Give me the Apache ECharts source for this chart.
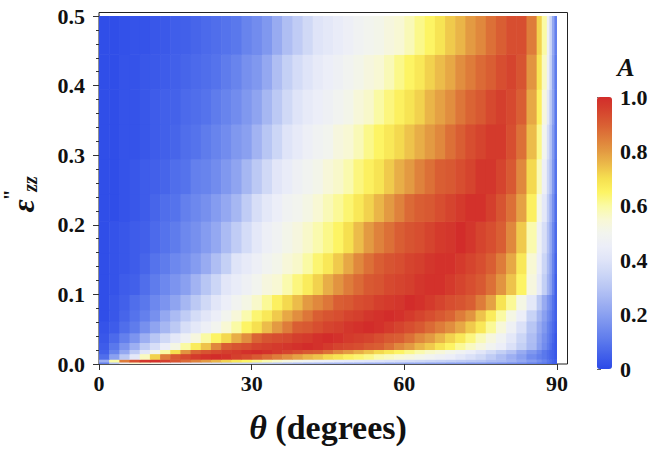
<!DOCTYPE html>
<html><head><meta charset="utf-8">
<script src="https://cdn.jsdelivr.net/npm/echarts@6/dist/echarts.min.js"></script>
<style>html,body{margin:0;padding:0;background:#fff}#c{width:657px;height:449px}</style>
</head><body><div id="c"></div>
<script>
// theta cell edges (degrees)
const thetaEdges = [0,2,4,6,8,10,12,14,16,18,20,22,24,26,28,30,32,34,36,38,40,42,44,46,48,50,52,54,56,58,60,62,64,66,68,70,72,74,76,78,80,82,84,86,87,88,88.5,89,89.5,90];
// eps''_zz cell edges
const epsEdges = [0,0.003,0.007,0.015,0.021,0.031,0.045,0.062,0.078,0.1,0.13,0.16,0.205,0.245,0.295,0.345,0.395,0.445,0.5];
// absorption A, one row per eps band (bottom to top)
const r01 = [0.12,0.30,0.45,0.55,0.55,0.52,0.49,0.46,0.43,0.41,0.39,0.37,0.35,0.34,0.33,0.32,0.31,0.30,0.29,0.28,0.27,0.27,0.26,0.26,0.25,0.25,0.24,0.24,0.23,0.23,0.22,0.22,0.21,0.21,0.20,0.20,0.19,0.19,0.18,0.17,0.16,0.15,0.13,0.11,0.10,0.08,0.07,0.05,0.04];
const r02 = [0.24,0.60,0.85,0.93,0.98,0.99,0.96,0.92,0.88,0.84,0.80,0.76,0.72,0.68,0.65,0.62,0.59,0.56,0.53,0.51,0.49,0.47,0.46,0.44,0.43,0.42,0.41,0.40,0.39,0.38,0.37,0.36,0.35,0.34,0.33,0.32,0.31,0.30,0.28,0.27,0.25,0.22,0.19,0.16,0.13,0.10,0.08,0.06,0.04];
const r03 = [0.08,0.20,0.31,0.42,0.57,0.72,0.85,0.91,0.94,0.97,0.99,1.00,0.99,0.96,0.94,0.91,0.88,0.85,0.82,0.79,0.76,0.74,0.71,0.69,0.66,0.64,0.62,0.59,0.57,0.55,0.53,0.51,0.49,0.47,0.45,0.42,0.39,0.36,0.32,0.28,0.24,0.20,0.15,0.12,0.10,0.08,0.06,0.05,0.03];
const r04 = [0.05,0.13,0.22,0.32,0.41,0.50,0.60,0.70,0.81,0.89,0.92,0.94,0.96,0.97,0.99,1.00,0.99,0.97,0.95,0.93,0.91,0.90,0.87,0.83,0.80,0.77,0.74,0.71,0.68,0.65,0.62,0.59,0.56,0.54,0.51,0.48,0.45,0.41,0.37,0.33,0.29,0.23,0.18,0.14,0.10,0.08,0.06,0.05,0.03];
const r05 = [0.04,0.10,0.17,0.24,0.32,0.38,0.45,0.52,0.60,0.67,0.74,0.83,0.90,0.92,0.93,0.95,0.96,0.97,0.98,0.99,1.00,0.99,0.97,0.95,0.94,0.93,0.91,0.90,0.87,0.83,0.80,0.76,0.73,0.69,0.65,0.61,0.57,0.53,0.49,0.45,0.39,0.33,0.27,0.20,0.15,0.11,0.08,0.05,0.03];
const r06 = [0.03,0.07,0.12,0.17,0.24,0.30,0.36,0.42,0.47,0.53,0.60,0.65,0.71,0.77,0.82,0.89,0.92,0.93,0.94,0.96,0.97,0.99,1.00,0.99,0.97,0.96,0.95,0.93,0.91,0.90,0.87,0.83,0.80,0.76,0.72,0.68,0.63,0.58,0.53,0.48,0.42,0.35,0.28,0.21,0.16,0.12,0.09,0.06,0.03];
const r07 = [0.02,0.04,0.08,0.11,0.16,0.21,0.26,0.31,0.38,0.42,0.46,0.50,0.55,0.60,0.65,0.70,0.75,0.80,0.85,0.90,0.91,0.93,0.95,0.96,0.98,0.99,1.00,0.99,0.97,0.95,0.93,0.91,0.88,0.85,0.82,0.78,0.73,0.68,0.61,0.54,0.47,0.39,0.30,0.23,0.18,0.13,0.10,0.07,0.04];
const r08 = [0.01,0.03,0.06,0.09,0.12,0.16,0.22,0.27,0.32,0.37,0.41,0.45,0.50,0.54,0.59,0.64,0.68,0.73,0.78,0.82,0.86,0.90,0.92,0.93,0.95,0.96,0.98,0.99,1.00,0.99,0.97,0.95,0.93,0.91,0.89,0.85,0.81,0.74,0.67,0.60,0.52,0.45,0.34,0.26,0.20,0.15,0.12,0.08,0.05];
const r09 = [0.01,0.03,0.05,0.08,0.10,0.14,0.17,0.21,0.26,0.31,0.36,0.41,0.45,0.49,0.52,0.56,0.61,0.66,0.71,0.75,0.80,0.83,0.86,0.90,0.91,0.93,0.94,0.96,0.97,0.98,1.00,0.99,0.97,0.95,0.93,0.92,0.90,0.85,0.79,0.69,0.61,0.52,0.42,0.31,0.23,0.17,0.14,0.09,0.05];
const r10 = [0.01,0.02,0.04,0.05,0.08,0.11,0.14,0.17,0.20,0.25,0.30,0.35,0.41,0.44,0.47,0.50,0.53,0.55,0.59,0.63,0.67,0.72,0.77,0.81,0.85,0.88,0.91,0.92,0.94,0.95,0.96,0.98,0.99,0.99,0.97,0.95,0.93,0.91,0.87,0.81,0.74,0.65,0.53,0.43,0.33,0.25,0.20,0.12,0.05];
const r11 = [0.01,0.02,0.03,0.04,0.06,0.09,0.11,0.14,0.16,0.19,0.23,0.28,0.33,0.40,0.43,0.46,0.49,0.51,0.54,0.56,0.60,0.64,0.68,0.73,0.78,0.83,0.87,0.90,0.92,0.93,0.95,0.96,0.98,0.99,0.99,0.97,0.95,0.93,0.90,0.85,0.78,0.68,0.55,0.45,0.35,0.27,0.21,0.13,0.06];
const r12 = [0.01,0.02,0.03,0.04,0.05,0.07,0.09,0.11,0.14,0.16,0.19,0.22,0.27,0.32,0.37,0.42,0.46,0.48,0.51,0.53,0.56,0.59,0.62,0.65,0.70,0.75,0.80,0.84,0.87,0.90,0.92,0.93,0.95,0.97,0.98,1.00,0.98,0.95,0.93,0.90,0.83,0.73,0.59,0.47,0.38,0.29,0.22,0.14,0.07];
const r13 = [0.01,0.01,0.02,0.03,0.04,0.06,0.08,0.09,0.12,0.14,0.16,0.19,0.22,0.26,0.32,0.38,0.42,0.45,0.48,0.50,0.52,0.55,0.58,0.61,0.64,0.68,0.72,0.76,0.80,0.84,0.88,0.90,0.91,0.93,0.95,0.97,0.99,0.99,0.96,0.92,0.87,0.79,0.66,0.52,0.42,0.32,0.24,0.16,0.08];
const r14 = [0.01,0.01,0.02,0.03,0.04,0.05,0.06,0.08,0.09,0.12,0.13,0.15,0.18,0.21,0.26,0.31,0.36,0.41,0.44,0.47,0.49,0.51,0.54,0.56,0.59,0.63,0.66,0.69,0.73,0.77,0.80,0.84,0.87,0.90,0.91,0.93,0.95,0.98,0.98,0.95,0.91,0.83,0.71,0.58,0.46,0.35,0.28,0.18,0.09];
const r15 = [0.01,0.01,0.02,0.02,0.03,0.04,0.05,0.06,0.08,0.09,0.11,0.13,0.15,0.18,0.20,0.25,0.30,0.35,0.40,0.43,0.46,0.48,0.50,0.53,0.55,0.58,0.62,0.65,0.68,0.71,0.74,0.77,0.80,0.83,0.87,0.90,0.93,0.95,0.97,0.97,0.93,0.87,0.75,0.62,0.50,0.38,0.29,0.19,0.10];
const r16 = [0.01,0.01,0.02,0.02,0.03,0.04,0.05,0.055,0.07,0.08,0.09,0.11,0.13,0.15,0.18,0.21,0.26,0.31,0.36,0.40,0.43,0.45,0.47,0.49,0.51,0.54,0.56,0.60,0.63,0.66,0.69,0.72,0.76,0.79,0.82,0.86,0.89,0.91,0.94,0.96,0.94,0.90,0.78,0.66,0.53,0.42,0.31,0.21,0.10];
const r17 = [0.01,0.01,0.02,0.02,0.03,0.035,0.04,0.05,0.06,0.07,0.08,0.09,0.11,0.13,0.16,0.18,0.22,0.28,0.33,0.37,0.40,0.43,0.45,0.47,0.49,0.51,0.53,0.55,0.58,0.62,0.65,0.68,0.72,0.75,0.78,0.82,0.85,0.88,0.90,0.93,0.95,0.92,0.81,0.69,0.57,0.45,0.34,0.21,0.11];
const r18 = [0.01,0.01,0.015,0.02,0.02,0.03,0.035,0.045,0.05,0.06,0.07,0.08,0.09,0.10,0.13,0.15,0.18,0.23,0.28,0.32,0.36,0.40,0.42,0.44,0.46,0.48,0.50,0.51,0.53,0.55,0.58,0.62,0.65,0.69,0.73,0.76,0.80,0.83,0.87,0.90,0.93,0.93,0.85,0.72,0.60,0.46,0.35,0.22,0.12];
const rows = [r01,r02,r03,r04,r05,r06,r07,r08,r09,r10,r11,r12,r13,r14,r15,r16,r17,r18];
// tick labels
const thetaTicks = [0,30,60,90];
const epsTicks = [0,0.1,0.2,0.3,0.4,0.5];
const aTicks = [0,0.2,0.4,0.6,0.8,1.0];

const palette = ['#2c4ae8','#4260ea','#5a78ec','#728cee','#8aa0f0','#a2b3f2','#b8c6f4','#ccd6f6','#dfe4f8','#eceef8','#f2f4ee','#f8f8d4','#fafaa4','#fdf464','#f6e050','#ecbc4a','#e39a42','#de7c3a','#d95e33','#d5442e','#d22c2a'];
const FONT = '"Liberation Serif","Times New Roman",serif';

const cells = [];
rows.forEach((row, j) => row.forEach((a, i) => {
  cells.push([thetaEdges[i], thetaEdges[i+1], epsEdges[j], epsEdges[j+1], a]);
}));

const lbl = {fontFamily: FONT, fontWeight: 'bold', fontSize: 22, color: '#111'};
const chart = echarts.init(document.getElementById('c'), null, {renderer: 'svg'});
chart.setOption({
  animation: false,
  backgroundColor: '#fff',
  grid: [
    {left: 99, top: 16, width: 458, height: 348},
    {left: 597, top: 97, width: 15, height: 272}
  ],
  xAxis: [
    {gridIndex: 0, type: 'value', min: thetaTicks[0], max: thetaTicks[thetaTicks.length-1], interval: thetaTicks[1]-thetaTicks[0],
     axisLine: {show: true, lineStyle: {color: '#555', width: 1}},
     axisTick: {show: true, length: 6, lineStyle: {color: '#333'}},
     splitLine: {show: false},
     axisLabel: Object.assign({margin: 8}, lbl),
     name: '{i|θ} (degrees)', nameLocation: 'middle', nameGap: 46,
     nameTextStyle: {fontFamily: FONT, fontWeight: 'bold', fontSize: 34, color: '#111',
       rich: {i: {fontFamily: FONT, fontWeight: 'bold', fontStyle: 'italic', fontSize: 34, color: '#111'}}}},
    {gridIndex: 1, type: 'value', min: 0, max: 1, show: false}
  ],
  yAxis: [
    {gridIndex: 0, type: 'value', min: epsTicks[0], max: epsTicks[epsTicks.length-1], interval: 0.1,
     axisLine: {show: true, lineStyle: {color: '#555', width: 1}},
     axisTick: {show: true, length: 6, lineStyle: {color: '#333'}},
     minorTick: {show: true, splitNumber: 5, length: 3, lineStyle: {color: '#333'}},
     splitLine: {show: false},
     axisLabel: Object.assign({margin: 14, formatter: v => v.toFixed(1)}, lbl)},
    {gridIndex: 1, type: 'value', position: 'right', min: aTicks[0], max: aTicks[aTicks.length-1], interval: 0.2,
     axisLine: {show: false},
     axisTick: {show: true, length: 4, lineStyle: {color: '#666'}},
     minorTick: {show: true, splitNumber: 4, length: 3, lineStyle: {color: '#888'}},
     splitLine: {show: false},
     axisLabel: Object.assign({margin: 8, formatter: v => v === 0 ? '0' : v.toFixed(1)}, lbl)}
  ],
  visualMap: {
    type: 'continuous', min: 0, max: 1, dimension: 4, seriesIndex: 0,
    show: true, calculable: false, left: 597, top: 97, itemWidth: 15, itemHeight: 272,
    padding: 0, text: null, hoverLink: false,
    inRange: {color: palette}
  },
  graphic: [
    {type: 'rect', z: -10, shape: {x: 99, y: 12.5, width: 468.5, height: 351.5},
     style: {fill: 'none', stroke: '#222', lineWidth: 1}},
    {type: 'text', x: 626, y: 67,
     style: {text: 'A', font: 'italic bold 26px ' + FONT, fill: '#111', align: 'center', verticalAlign: 'middle', textAlign: 'center', textVerticalAlign: 'middle'}},
    {type: 'group', x: 23, y: 196, rotation: Math.PI / 2, children: [
      {type: 'text', x: -10, y: 0,
       style: {text: 'ε', font: 'italic bold 32px ' + FONT, fill: '#111', align: 'center', verticalAlign: 'middle', textAlign: 'center', textVerticalAlign: 'middle'}},
      {type: 'text', x: 1, y: -12,
       style: {text: '"', font: 'bold 20px ' + FONT, fill: '#111', align: 'center', verticalAlign: 'middle', textAlign: 'center', textVerticalAlign: 'middle'}},
      {type: 'text', x: 12, y: 7,
       style: {text: 'zz', font: 'italic bold 20px ' + FONT, fill: '#111', align: 'center', verticalAlign: 'middle', textAlign: 'center', textVerticalAlign: 'middle'}}
    ]}
  ],
  series: [{
    type: 'custom', xAxisIndex: 0, yAxisIndex: 0, clip: true,
    encode: {x: [0, 1], y: [2, 3]},
    data: cells,
    renderItem: function (params, api) {
      const p0 = api.coord([api.value(0), api.value(3)]);
      const p1 = api.coord([api.value(1), api.value(2)]);
      return {type: 'rect',
        shape: {x: p0[0], y: p0[1], width: p1[0] - p0[0] + 0.6, height: p1[1] - p0[1] + 0.6},
        style: {fill: api.visual('color')}};
    }
  }]
});
</script></body></html>
